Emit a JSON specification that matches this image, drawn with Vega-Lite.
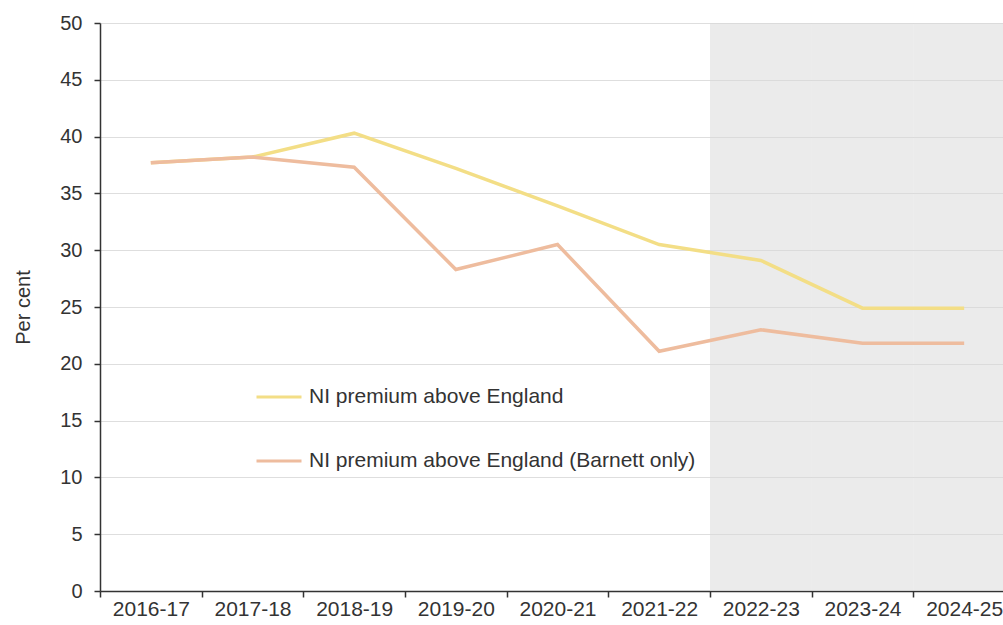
{
  "$schema": "https://vega.github.io/schema/vega-lite/v6.json",
  "width": 903,
  "height": 568,
  "autosize": "none",
  "padding": {"left": 100, "top": 23, "right": 0, "bottom": 34},
  "background": "white",
  "config": {"view": {"stroke": null}, "font": "Liberation Sans"},
  "datasets": {
    "shade": [
      {"year": "2022-23", "top": 50},
      {"year": "2023-24", "top": 50},
      {"year": "2024-25", "top": 50}
    ],
    "series": [
      {"year": "2016-17", "series": "NI premium above England", "value": 37.7},
      {"year": "2017-18", "series": "NI premium above England", "value": 38.2},
      {"year": "2018-19", "series": "NI premium above England", "value": 40.3},
      {"year": "2019-20", "series": "NI premium above England", "value": 37.2},
      {"year": "2020-21", "series": "NI premium above England", "value": 33.9},
      {"year": "2021-22", "series": "NI premium above England", "value": 30.5},
      {"year": "2022-23", "series": "NI premium above England", "value": 29.1},
      {"year": "2023-24", "series": "NI premium above England", "value": 24.9},
      {"year": "2024-25", "series": "NI premium above England", "value": 24.9},
      {"year": "2016-17", "series": "NI premium above England (Barnett only)", "value": 37.7},
      {"year": "2017-18", "series": "NI premium above England (Barnett only)", "value": 38.2},
      {"year": "2018-19", "series": "NI premium above England (Barnett only)", "value": 37.3},
      {"year": "2019-20", "series": "NI premium above England (Barnett only)", "value": 28.3},
      {"year": "2020-21", "series": "NI premium above England (Barnett only)", "value": 30.5},
      {"year": "2021-22", "series": "NI premium above England (Barnett only)", "value": 21.1},
      {"year": "2022-23", "series": "NI premium above England (Barnett only)", "value": 23.0},
      {"year": "2023-24", "series": "NI premium above England (Barnett only)", "value": 21.8},
      {"year": "2024-25", "series": "NI premium above England (Barnett only)", "value": 21.8}
    ]
  },
  "layer": [
    {
      "data": {"name": "shade"},
      "mark": {"type": "bar", "color": "#d7d7d7", "opacity": 0.5},
      "encoding": {
        "x": {
          "field": "year",
          "type": "nominal",
          "scale": {
            "domain": ["2016-17", "2017-18", "2018-19", "2019-20", "2020-21", "2021-22", "2022-23", "2023-24", "2024-25"],
            "range": [0, 915],
            "paddingInner": 0,
            "paddingOuter": 0
          },
          "axis": {
            "title": null,
            "labelAngle": 0,
            "tickBand": "extent",
            "domainColor": "#333333",
            "domainWidth": 1.5,
            "tickColor": "#333333",
            "tickWidth": 1.5,
            "tickSize": 6,
            "labelFontSize": 21,
            "labelColor": "#333333",
            "labelPadding": 1,
            "grid": false
          }
        },
        "y": {
          "field": "top",
          "type": "quantitative",
          "scale": {"domain": [0, 50], "nice": false},
          "axis": {
            "title": "Per cent",
            "values": [0, 5, 10, 15, 20, 25, 30, 35, 40, 45, 50],
            "grid": true,
            "gridColor": "#dedede",
            "gridWidth": 1.2,
            "domainColor": "#333333",
            "domainWidth": 1.5,
            "tickColor": "#333333",
            "tickWidth": 1.5,
            "tickSize": 6,
            "labelFontSize": 20,
            "labelColor": "#333333",
            "labelPadding": 12,
            "titleFontSize": 20,
            "titleFontWeight": "normal",
            "titleColor": "#333333",
            "titlePadding": 26
          }
        }
      }
    },
    {
      "data": {"name": "series"},
      "mark": {"type": "line", "strokeWidth": 3.5},
      "encoding": {
        "x": {"field": "year", "type": "nominal"},
        "y": {"field": "value", "type": "quantitative"},
        "color": {
          "field": "series",
          "type": "nominal",
          "scale": {
            "domain": ["NI premium above England", "NI premium above England (Barnett only)"],
            "range": ["#f3de86", "#eebc9e"]
          },
          "legend": {
            "title": null,
            "orient": "none",
            "legendX": 155,
            "legendY": 350,
            "symbolType": "stroke",
            "symbolSize": 2025,
            "symbolStrokeWidth": 3,
            "labelFontSize": 21,
            "labelColor": "#333333",
            "labelOffset": 6,
            "labelLimit": 800,
            "rowPadding": 30
          }
        }
      }
    }
  ]
}
